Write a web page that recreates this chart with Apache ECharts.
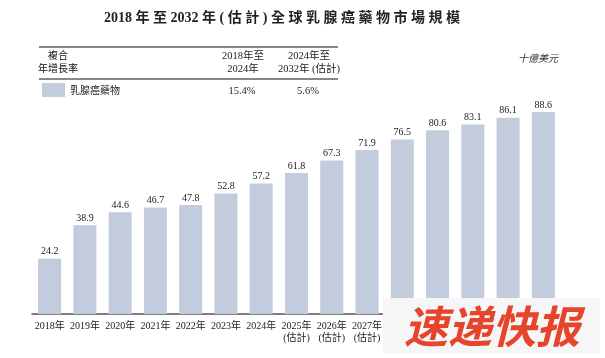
<!DOCTYPE html>
<html><head><meta charset="utf-8">
<script src="https://cdn.jsdelivr.net/npm/echarts@6/dist/echarts.min.js"></script>
<style>html,body{margin:0;padding:0;background:#fff}#c{width:605px;height:358px}</style>
</head><body><div id="c"></div>
<script>
var categories = ['2018年','2019年','2020年','2021年','2022年','2023年','2024年','2025年\n(估計)','2026年\n(估計)','2027年\n(估計)','2028年\n(估計)','2029年\n(估計)','2030年\n(估計)','2031年\n(估計)','2032年\n(估計)'];
var values = [24.2,38.9,44.6,46.7,47.8,52.8,57.2,61.8,67.3,71.9,76.5,80.6,83.1,86.1,88.6];
var seriesName = '乳腺癌藥物';
var cagrHeaders = ['2018年至\n2024年','2024年至\n2032年 (估計)'];
var cagrValues = ['15.4%','5.6%'];
var titleText = '2018年至2032年(估計)全球乳腺癌藥物市場規模';
var unitText = '十億美元';
var watermark = '速递快报';

var SERIF = "'Liberation Serif','Noto Sans CJK TC',serif";
var barColor = '#c2ccdd';

function spaced(s){
  var toks = s.match(/[0-9]+|./g);
  return toks.join('\u2005');
}

var chart = echarts.init(document.getElementById('c'), null, {renderer:'canvas'});
chart.setOption({
  animation:false,
  grid:{left:32,right:44,top:86,bottom:44},
  xAxis:{type:'category',data:categories,
    axisLine:{lineStyle:{color:'#555',width:1.5}},
    axisTick:{show:false},
    axisLabel:{interval:0,margin:6,fontFamily:SERIF,fontSize:10,color:'#222',lineHeight:12.5}},
  yAxis:{type:'value',min:0,max:100,show:false,splitLine:{show:false}},
  series:[{type:'bar',name:seriesName,data:values,barWidth:23,
    itemStyle:{color:barColor},
    label:{show:true,position:'top',distance:2,fontFamily:SERIF,fontSize:10,color:'#222',
      formatter:function(p){return p.value.toFixed(1);}}}],
  graphic:[
    {type:'text',style:{text:spaced(titleText),x:282,y:18,align:'center',verticalAlign:'middle',fontFamily:SERIF,fontSize:14,fontWeight:'bold',fill:'#222'}},
    {type:'line',shape:{x1:39,y1:47,x2:338,y2:47},style:{stroke:'#888',lineWidth:2}},
    {type:'line',shape:{x1:39,y1:79,x2:338,y2:79},style:{stroke:'#888',lineWidth:2}},
    {type:'text',style:{text:'複合\n年增長率',x:58,y:62.5,align:'center',verticalAlign:'middle',fontFamily:SERIF,fontSize:10,lineHeight:13,fill:'#111'}},
    {type:'text',style:{text:cagrHeaders[0],x:243,y:62.5,align:'center',verticalAlign:'middle',fontFamily:SERIF,fontSize:10.5,lineHeight:13,fill:'#222'}},
    {type:'text',style:{text:cagrHeaders[1],x:309,y:62.5,align:'center',verticalAlign:'middle',fontFamily:SERIF,fontSize:10.5,lineHeight:13,fill:'#222'}},
    {type:'rect',shape:{x:42,y:83,width:23,height:14},style:{fill:barColor}},
    {type:'text',style:{text:seriesName,x:70,y:91,align:'left',verticalAlign:'middle',fontFamily:SERIF,fontSize:10,fill:'#222'}},
    {type:'text',style:{text:cagrValues[0],x:242,y:91,align:'center',verticalAlign:'middle',fontFamily:SERIF,fontSize:10.5,fill:'#222'}},
    {type:'text',style:{text:cagrValues[1],x:308,y:91,align:'center',verticalAlign:'middle',fontFamily:SERIF,fontSize:10.5,fill:'#222'}},
    {type:'text',style:{text:unitText,x:558,y:59,align:'right',verticalAlign:'middle',fontFamily:SERIF,fontSize:10,fontStyle:'italic',fill:'#333'}},
    {type:'rect',z:100,shape:{x:383,y:298,width:217,height:55},style:{fill:'#f6f6f6'}},
    {type:'text',z:101,style:{text:watermark,x:492,y:326,align:'center',verticalAlign:'middle',fontFamily:"'Noto Sans CJK SC',sans-serif",fontSize:44,fontWeight:'bold',fontStyle:'italic',fill:'#e6452b'}}
  ]
});
</script></body></html>
